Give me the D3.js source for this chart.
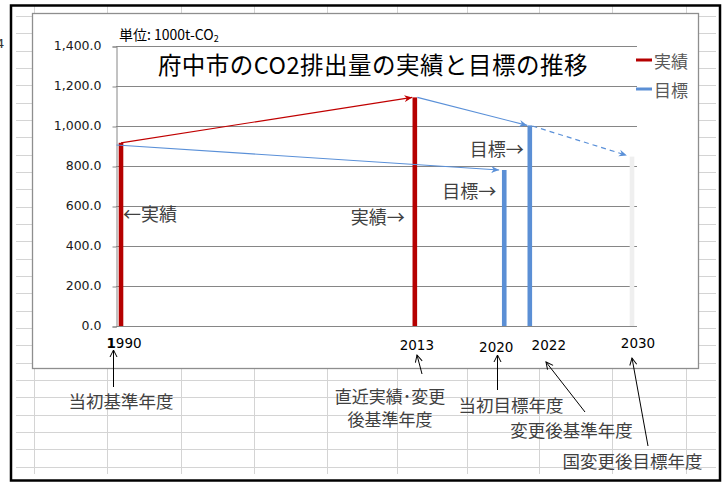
<!DOCTYPE html>
<html><head><meta charset="utf-8">
<script src="https://cdn.jsdelivr.net/npm/d3@7"></script>
<style>body{margin:0;background:#fff}svg{display:block}</style>
</head><body>
<script>
// ---- data ----
const years = [1990, 2013, 2020, 2022, 2030];
const values = [916, 1143, 780, 1003, 847];
const kinds = ["実績", "実績", "目標", "目標", "国目標"];
const yTicks = [0, 200, 400, 600, 800, 1000, 1200, 1400];
const xLabels = ["1990", "2013", "2020", "2022", "2030"];
const legendNames = ["実績", "目標"];
// arrow lines between values
const arrowFrom = [[1990, 916], [1989.65, 905], [2013.2, 1143], [2022.2, 1000]];
const arrowTo   = [[2012.8, 1143], [2019.6, 780], [2021.8, 1003], [2029.6, 853]];
const arrowKind = ["実績", "目標", "目標", "目標"];
const arrowDash = [false, false, false, true];

const W = 726, H = 482;
const svg = d3.select("body").append("svg").attr("width", W).attr("height", H);
const defs = svg.append("defs");
const color = {"実績": "#b50000", "目標": "#5b8fd5", "国目標": "#efefef"};
const lineColor = {"実績": "#c00000", "目標": "#5a90d8"};

["実績", "目標"].forEach((k, i) => {
  defs.append("marker").attr("id", "ah" + i).attr("viewBox", "-8 -4 9 8")
    .attr("refX", 0).attr("refY", 0).attr("markerWidth", 9).attr("markerHeight", 8)
    .attr("markerUnits", "userSpaceOnUse").attr("orient", "auto")
    .append("path").attr("d", "M0,0 L-8,-3.5 L-5.5,0 L-8,3.5 Z").attr("fill", lineColor[k]);
});
defs.append("marker").attr("id", "blk").attr("viewBox", "-8 -5 9 10")
  .attr("refX", 0).attr("refY", 0).attr("markerWidth", 9).attr("markerHeight", 10)
  .attr("markerUnits", "userSpaceOnUse").attr("orient", "auto")
  .append("path").attr("d", "M-7,-3.5 L0,0 L-7,3.5").attr("fill", "none").attr("stroke", "#000").attr("stroke-width", 1);

// ---- spreadsheet background grid ----
const sheet = svg.append("g").attr("stroke", "#d4d4d4").attr("stroke-width", 1);
d3.range(-1, 26).forEach(k => {
  const yy = Math.round(33.3 + k * 17.33) + 0.5;
  sheet.append("line").attr("x1", 16).attr("x2", 716).attr("y1", yy).attr("y2", yy);
});
[34, 107, 181, 254, 327, 397, 467, 539, 612, 686].forEach(xx => {
  sheet.append("line").attr("x1", xx + 0.5).attr("x2", xx + 0.5).attr("y1", 6).attr("y2", 474);
});
svg.append("text").attr("x", -4).attr("y", 48).attr("font-family", "DejaVu Sans")
  .attr("font-size", 13).attr("fill", "#333").text("4");

// ---- chart area ----
svg.append("rect").attr("x", 32.5).attr("y", 13.5).attr("width", 666).attr("height", 355)
  .attr("fill", "#fff").attr("stroke", "#8e8e8e").attr("stroke-width", 1.3);

const x = d3.scaleLinear().domain([1990, 2030]).range([121, 632]);
const y = d3.scaleLinear().domain([0, 1400]).range([326, 46]);
const plotL = 116, plotR = 637;

// gridlines
svg.append("g").selectAll("line").data(yTicks).join("line")
  .attr("x1", plotL).attr("x2", plotR)
  .attr("y1", d => Math.round(y(d)) + 0.5).attr("y2", d => Math.round(y(d)) + 0.5)
  .attr("stroke", "#868686").attr("stroke-width", 1);

// y axis
const yAxis = svg.append("g").attr("transform", `translate(${plotL + 0.5},0.5)`)
  .call(d3.axisLeft(y).tickValues(yTicks).tickFormat(d3.format(",.1f")).tickSize(4).tickPadding(11));
yAxis.select(".domain").attr("stroke", "#868686");
yAxis.selectAll(".tick line").attr("stroke", "#868686");
yAxis.selectAll(".tick text").attr("font-family", "DejaVu Sans").attr("font-size", 12.5)
  .attr("fill", "#1a1a1a").attr("dy", "0.2em");

// bars
svg.append("g").selectAll("rect").data(years).join("rect")
  .attr("x", (d) => x(d) - 2.3).attr("width", 4.6)
  .attr("y", (d, i) => y(values[i])).attr("height", (d, i) => y(0) - y(values[i]))
  .attr("fill", (d, i) => color[kinds[i]]);

// arrow lines
svg.append("g").selectAll("line").data(arrowFrom).join("line")
  .attr("x1", d => x(d[0])).attr("y1", d => y(d[1]))
  .attr("x2", (d, i) => x(arrowTo[i][0])).attr("y2", (d, i) => y(arrowTo[i][1]))
  .attr("stroke", (d, i) => lineColor[arrowKind[i]]).attr("stroke-width", 1.2)
  .attr("stroke-dasharray", (d, i) => arrowDash[i] ? "5,4" : null)
  .attr("marker-end", (d, i) => `url(#ah${arrowKind[i] === "実績" ? 0 : 1})`);

// title
svg.append("text").attr("x", 373).attr("y", 74).attr("text-anchor", "middle")
  .attr("font-family", "Noto Sans CJK JP").attr("font-size", 23.5).attr("letter-spacing", 0.5)
  .attr("fill", "#000").text("府中市のCO2排出量の実績と目標の推移");

// unit
const unit = svg.append("text").attr("x", 119).attr("y", 40)
  .attr("font-family", "Noto Sans CJK JP").attr("font-size", 14).attr("fill", "#000");
unit.append("tspan").text("単位: 1000t-CO");
unit.append("tspan").attr("font-size", 9).attr("dy", 2).text("2");

// legend
const leg = svg.append("g");
legendNames.forEach((n, i) => {
  const ly = 60 + i * 29;
  leg.append("line").attr("x1", 636).attr("x2", 652).attr("y1", ly).attr("y2", ly)
    .attr("stroke", color[n]).attr("stroke-width", 3);
  leg.append("text").attr("x", 654).attr("y", ly).attr("dominant-baseline", "central")
    .attr("font-family", "Noto Sans CJK JP").attr("font-size", 17).attr("fill", "#595959").text(n);
});

// in-plot annotations
const ann = svg.append("g").attr("font-family", "Noto Sans CJK JP").attr("font-size", 18)
  .attr("fill", "#404040").attr("dominant-baseline", "central");
ann.append("text").attr("x", x(1990) + 2).attr("y", y(565)).text("←実績");
ann.append("text").attr("x", x(2013) - 10).attr("y", y(550)).attr("text-anchor", "end").text("実績→");
ann.append("text").attr("x", x(2020) - 8).attr("y", y(680)).attr("text-anchor", "end").text("目標→");
ann.append("text").attr("x", x(2022) - 6).attr("y", y(890)).attr("text-anchor", "end").text("目標→");

// x labels
const xl = svg.append("g").attr("font-family", "DejaVu Sans").attr("font-size", 13.5)
  .attr("fill", "#000").attr("text-anchor", "middle").attr("dominant-baseline", "central");
const xOff = [[3, 343], [2, 345], [-8, 347], [19, 345], [6, 343]];
xLabels.forEach((t, i) => {
  const tx = xl.append("text").attr("x", x(years[i]) + xOff[i][0]).attr("y", xOff[i][1]);
  if (i === 0) {
    tx.append("tspan").attr("font-weight", "bold").text(t.slice(0, 1));
    tx.append("tspan").text(t.slice(1));
  } else tx.text(t);
});

// below-chart annotations
const below = svg.append("g").attr("font-family", "Noto Sans CJK JP").attr("font-size", 17.5)
  .attr("fill", "#404040").attr("text-anchor", "middle").attr("dominant-baseline", "central");
below.append("text").attr("x", 121).attr("y", 400).text("当初基準年度");
below.append("text").attr("x", 390).attr("y", 395).attr("font-size", 17).text("直近実績･変更");
below.append("text").attr("x", 390).attr("y", 418).attr("font-size", 17).text("後基準年度");
below.append("text").attr("x", 511).attr("y", 404).text("当初目標年度");
below.append("text").attr("x", 571.5).attr("y", 429).text("変更後基準年度");
below.append("text").attr("x", 632.5).attr("y", 460).text("国変更後目標年度");

const arr = svg.append("g").attr("stroke", "#000").attr("stroke-width", 1).attr("fill", "none");
[[113.5, 387, 113.5, 350], [422, 374, 417, 355], [497.5, 390, 497.5, 355],
 [585, 412, 546, 362], [648, 446, 632, 358]].forEach(a => {
  arr.append("line").attr("x1", a[0]).attr("y1", a[1]).attr("x2", a[2]).attr("y2", a[3])
    .attr("marker-end", "url(#blk)");
});

// outer black frame
svg.append("rect").attr("x", 11).attr("y", 5.5).attr("width", 709).attr("height", 475)
  .attr("fill", "none").attr("stroke", "#000").attr("stroke-width", 2.5);
</script>
</body></html>
